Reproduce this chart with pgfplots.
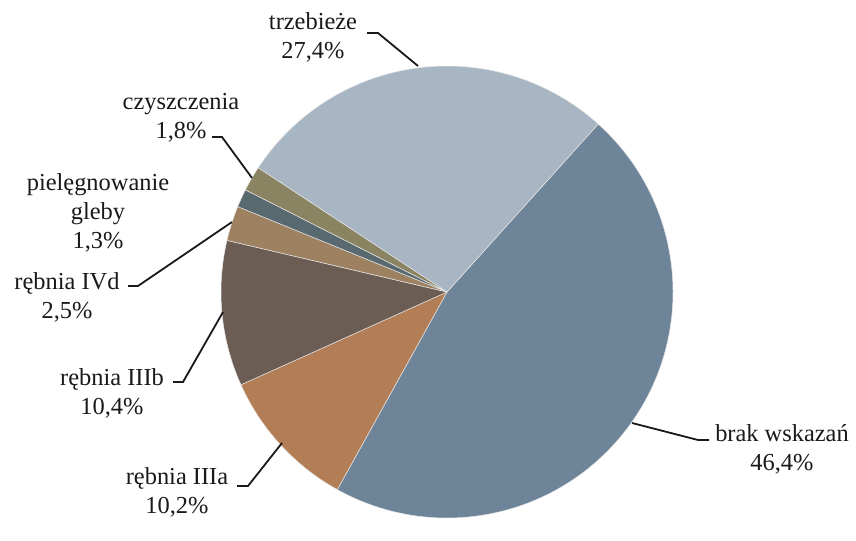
\documentclass[border=0pt]{standalone}
\usepackage{pgfplots}
\usepackage{pgfplotstable}
\pgfplotsset{compat=1.18}
\usepackage{fontspec}
\setmainfont{Liberation Serif}

\definecolor{cBrak}{HTML}{6E8599}
\definecolor{cIIIa}{HTML}{B37D56}
\definecolor{cIIIb}{HTML}{6B5D54}
\definecolor{cIVd}{HTML}{9E8160}
\definecolor{cGleba}{HTML}{586970}
\definecolor{cCzysz}{HTML}{8A8462}
\definecolor{cTrzeb}{HTML}{A8B5C2}

% shares in percent, clockwise from the start angle
\pgfplotstableread{
name   value color
brak   46.4  cBrak
IIIa   10.2  cIIIa
IIIb   10.4  cIIIb
IVd    2.5   cIVd
gleba  1.3   cGleba
czysz  1.8   cCzysz
trzeb  27.4  cTrzeb
}\piedata

\begin{document}
\begin{tikzpicture}
\begin{axis}[
    hide axis,
    scale only axis,
    width=856bp, height=520bp,
    xmin=0, xmax=856,
    ymin=0, ymax=520,
    clip=false,
]
\path (axis cs:0,0) rectangle (axis cs:856,520);

% wedges
\def\angA{48}
\pgfplotsforeachungrouped \i in {0,...,6}{%
    \pgfplotstablegetelem{\i}{value}\of\piedata
    \let\val\pgfplotsretval
    \pgfplotstablegetelem{\i}{color}\of\piedata
    \let\col\pgfplotsretval
    \pgfmathsetmacro\angB{\angA-3.6*\val}
    \pgfmathsetmacro\px{447+226*cos(\angA)}
    \pgfmathsetmacro\py{228+226*sin(\angA)}
    \edef\wedge{\noexpand\fill[fill=\col, draw=white!80!gray, line width=0.5bp]
        (axis cs:447,228) -- (axis cs:\px,\py)
        arc[start angle=\angA, end angle=\angB, radius=226bp] -- cycle;}%
    \wedge
    \let\angA\angB
}

% leader lines
\tikzset{lead/.style={line width=1.8bp, black!90}}
\draw[lead] (axis cs:367,487) -- (axis cs:378,487) -- (axis cs:418,454);
\draw[lead] (axis cs:212,383) -- (axis cs:222,383) -- (axis cs:252,342);
\draw[lead] (axis cs:128,234) -- (axis cs:138,234) -- (axis cs:232,298);
\draw[lead] (axis cs:173,138) -- (axis cs:183,138) -- (axis cs:223,208);
\draw[lead] (axis cs:237,34) -- (axis cs:248,34) -- (axis cs:282,77);
\draw[lead] (axis cs:632,97) -- (axis cs:698,80) -- (axis cs:709,80);

% labels
\tikzset{lbl/.style={align=center, inner sep=0pt,
    font=\fontsize{24.5}{29}\selectfont, text=black!90}}
\node[lbl] at (axis cs:313,483) {trzebieże\\27,4\%};
\node[lbl] at (axis cs:181,402) {czyszczenia\\1,8\%};
\node[lbl] at (axis cs:98,307) {pielęgnowanie\\gleby\\1,3\%};
\node[lbl] at (axis cs:67,223) {rębnia IVd\\2,5\%};
\node[lbl] at (axis cs:112,127) {rębnia IIIb\\10,4\%};
\node[lbl] at (axis cs:177,28) {rębnia IIIa\\10,2\%};
\node[lbl] at (axis cs:782,71) {brak wskazań\\46,4\%};
\end{axis}
\end{tikzpicture}
\end{document}
